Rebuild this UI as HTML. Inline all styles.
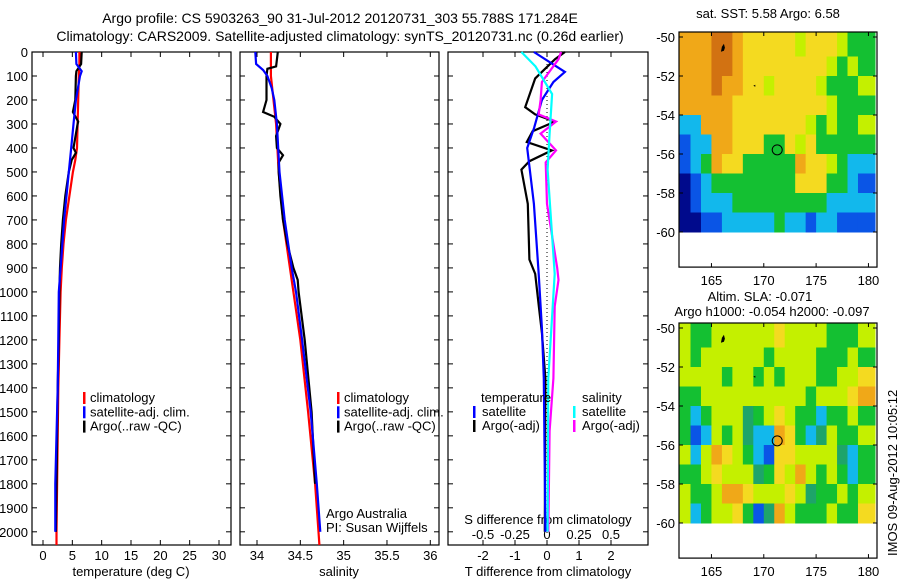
<!DOCTYPE html>
<html><head><meta charset="utf-8"><style>
html,body{margin:0;padding:0;background:#fff;width:900px;height:580px;overflow:hidden}
svg{display:block;font-family:"Liberation Sans",sans-serif;}
text{font-size:13px;fill:#000}
</style></head><body>
<svg id="chart" width="900" height="580" viewBox="0 0 900 580">
<text x="340" y="23" text-anchor="middle" style="font-size:14px">Argo profile: CS 5903263_90 31-Jul-2012 20120731_303 55.788S 171.284E</text>
<text x="340" y="41" text-anchor="middle" style="font-size:14px">Climatology: CARS2009. Satellite-adjusted climatology: synTS_20120731.nc (0.26d earlier)</text>
<g id="g"></g>
</svg>
<script>
// ---- depth profile data ----
const tClimDepth=[0,50,100,200,300,400,450,500,600,700,800,900,1000,1200,1400,1600,1800,2000,2055];
const tClim=[6.2,6.2,6.1,6.0,5.9,5.8,5.5,5.1,4.5,3.9,3.5,3.2,3.0,2.8,2.6,2.5,2.4,2.3,2.3];
const tSatDepth=[0,50,80,100,200,300,400,500,600,700,800,900,1000,1200,1400,1600,1800,2000];
const tSat=[5.6,5.7,6.6,6.3,5.6,5.2,4.8,4.4,4.0,3.6,3.3,3.0,2.7,2.6,2.5,2.3,2.1,2.1];
const tArgoDepth=[0,50,80,100,200,250,290,300,400,420,450,500,600,700,800,900,1000,1200,1400,1600,1800,2000];
const tArgo=[6.6,6.5,5.7,5.6,5.5,5.1,6.0,5.9,5.2,5.6,4.9,4.4,3.8,3.4,3.1,2.9,2.8,2.7,2.5,2.4,2.3,2.2];
const sClimDepth=[0,100,200,300,500,700,1000,1200,1500,1800,2000,2055];
const sClim=[34.16,34.16,34.19,34.22,34.25,34.30,34.42,34.5,34.59,34.67,34.71,34.72];
const sSatDepth=[0,50,75,100,150,200,300,500,700,900,1000,1200,1500,1800,2000];
const sSat=[33.98,33.99,34.07,34.12,34.17,34.2,34.23,34.26,34.32,34.40,34.45,34.52,34.62,34.69,34.73];
const sArgoDepth=[0,60,70,100,200,250,270,300,350,400,430,460,500,600,700,800,900,950,1000,1200,1500,1800];
const sArgo=[34.24,34.22,34.12,34.11,34.11,34.07,34.2,34.27,34.22,34.23,34.3,34.25,34.25,34.27,34.3,34.35,34.42,34.47,34.48,34.55,34.63,34.67];
const dTSatDepth=[0,83,125,200,315,400,633,925,1150,1360,2000];
const dTSat=[-0.41,0.56,0.2,-0.16,-0.4,-0.62,-0.41,-0.26,-0.16,-0.1,-0.05];
const dTArgoDepth=[0,30,110,230,260,290,330,375,410,455,490,633,865,925,1055,1170,1360,2000];
const dTArgo=[0.56,0.25,-0.37,-0.68,-0.37,0.25,-0.45,-0.63,0.15,-0.55,-0.8,-0.6,-0.55,-0.37,-0.26,-0.16,-0.05,-0.07];
const dSSatDepth=[0,60,175,340,490,925,1360,2000];
const dSSat=[-0.2,-0.09,0.04,0.02,0.005,0.06,0.01,0.005];
const dSArgoDepth=[0,30,125,200,260,290,340,410,460,633,900,950,1060,1360,1580,2000];
const dSArgo=[0.11,0.09,-0.04,-0.05,-0.065,0.07,-0.05,0.07,-0.01,0.0,0.08,0.09,0.06,0.05,0.02,0.01];
const depthTicks=[0,100,200,300,400,500,600,700,800,900,1000,1100,1200,1300,1400,1500,1600,1700,1800,1900,2000];
const tTicks=[0,5,10,15,20,25,30];
const sTicks=[34,34.5,35,35.5,36];
const sTickLabels=["34","34.5","35","35.5","36"];
const dTTicks=[-2,-1,0,1,2];
const dSTicks=[-0.5,-0.25,0,0.25,0.5];
const dSTickLabels=["-0.5","-0.25","0","0.25","0.5"];
// ---- map data (rows lat -50..-59, cols lon 162..179) ----
const sstGrid=[
"OOORROYYYYYLYYYLGG","OOORROYYYYYYYYLGLG","OOOROOYYLYYYYLGGGL","OOOOOYYYYYYYYYLGGG",
"CCOOOYYYYYYYLGLGGL","BCCOOYYYGGYLYGGGGG","BCGOYYGGGGGOYYLGCC","DBCGGGGGGGGYYYGGCB",
"DBCCCGGGGGGGGGCCCC","DDBBCCCCCGCCBCCBBB"];
const slaGrid=[
"LGGLLLLLLYLLLLGGGL","LGLLLLLLGLLLLGGGLG","LLLLGLLGLGLLLGGLLY","GGLLLLLLLLLLGLLLYO",
"GCGLLLTGLYLGGCGGLG","GBCLGLTCCOYGCTLGGL","LCLOYLGCBYYLLLLTCG","GGLYLLLTGYLOLGLGCG",
"LGGLOOYLLLYLTGGLGL","LCGLLYGBTOLGGGLGGY"];
const mapLonTicks=[165,170,175,180];
const mapLatTicks=[-50,-52,-54,-56,-58,-60];
const argoLon=171.284, argoLat=-55.788;

const NS="http://www.w3.org/2000/svg";
const G=document.getElementById('g');
function el(tag,attrs,parent){const e=document.createElementNS(NS,tag);for(const k in attrs)e.setAttribute(k,attrs[k]);(parent||G).appendChild(e);return e;}
function txt(x,y,s,anchor,size){const t=el('text',{x:x,y:y,'text-anchor':anchor||'start'});if(size)t.style.fontSize=size+'px';t.textContent=s;return t;}
const Y0=52, Y1=545, D1=2055;
function yD(d){return Y0+d/D1*(Y1-Y0);}
function panel(x0,x1,name){
  const r=el('rect',{x:x0,y:Y0,width:x1-x0,height:Y1-Y0,fill:'none',stroke:'#000','stroke-width':1.2});
  
  
  depthTicks.forEach(d=>{el('line',{x1:x0,x2:x0+5,y1:yD(d),y2:yD(d),stroke:'#000'});el('line',{x1:x1,x2:x1-5,y1:yD(d),y2:yD(d),stroke:'#000'});});
}
function line(xs,ds,fx,color,name,w){
  const p=el('polyline',{points:xs.map((v,i)=>fx(v).toFixed(1)+','+yD(ds[i]).toFixed(1)).join(' '),fill:'none',stroke:color,'stroke-width':w||2.2});
  
  
}
const P1=[32,231]; const xT=v=>43+(v-0)*(219-43)/30;
panel(P1[0],P1[1],'temperature-panel');
depthTicks.forEach(d=>{const t=txt(28,yD(d)+5,String(d),'end');});
tTicks.forEach(v=>{el('line',{x1:xT(v),x2:xT(v),y1:Y1,y2:Y1-5,stroke:'#000'});el('line',{x1:xT(v),x2:xT(v),y1:Y0,y2:Y0+5,stroke:'#000'});const t=txt(xT(v),560,String(v),'middle');});
line(tClim,tClimDepth,xT,'#f00','temp-climatology-line');
line(tArgo,tArgoDepth,xT,'#000','temp-argo-line');
line(tSat,tSatDepth,xT,'#00f','temp-satellite-line');
{const t=txt(131,576,'temperature (deg C)','middle');}
const P2=[240,439]; const xS=v=>257+(v-34)*(430.3-257)/2;
panel(P2[0],P2[1],'salinity-panel');
sTicks.forEach((v,i)=>{el('line',{x1:xS(v),x2:xS(v),y1:Y1,y2:Y1-5,stroke:'#000'});el('line',{x1:xS(v),x2:xS(v),y1:Y0,y2:Y0+5,stroke:'#000'});const t=txt(xS(v),560,sTickLabels[i],'middle');});
line(sClim,sClimDepth,xS,'#f00','salinity-climatology-line');
line(sArgo,sArgoDepth,xS,'#000','salinity-argo-line');
line(sSat,sSatDepth,xS,'#00f','salinity-satellite-line');
{const t=txt(339,576,'salinity','middle');}
{const t=txt(326,518,'Argo Australia');}
{const t=txt(326,532,'PI: Susan Wijffels');}
function legend(x,y,items,name){
  const g=el('g',{});
  items.forEach((it,i)=>{el('rect',{x:x,y:y+i*14.3-10,width:2.5,height:12,fill:it[0]},g);const t=el('text',{x:x+7,y:y+i*14.3},g);t.textContent=it[1];});
}
const legItems=[['#f00','climatology'],['#00f','satellite-adj. clim.'],['#000','Argo(..raw -QC)']];
legend(83,402,legItems,'temperature-legend');
legend(337,402,legItems,'salinity-legend');
const P3=[448,648]; const xDT=v=>547+v*32; const xDS=v=>547+v*128;
panel(P3[0],P3[1],'difference-panel');
el('line',{x1:547,x2:547,y1:Y0,y2:Y1-10,stroke:'#000','stroke-dasharray':'1,3'});
dTTicks.forEach(v=>{el('line',{x1:xDT(v),x2:xDT(v),y1:Y1,y2:Y1-5,stroke:'#000'});el('line',{x1:xDT(v),x2:xDT(v),y1:Y0,y2:Y0+5,stroke:'#000'});const t=txt(xDT(v),560,String(v),'middle');});
dSTicks.forEach((v,i)=>{const t=txt(xDS(v),539,dSTickLabels[i],'middle');});
{const t=txt(548,524,'S difference from climatology','middle');}
{const t=txt(548,576,'T difference from climatology','middle');}
line(dTArgo,dTArgoDepth,xDT,'#000','t-diff-argo-line');
line(dTSat,dTSatDepth,xDT,'#00f','t-diff-satellite-line');
line(dSArgo,dSArgoDepth,xDS,'#f0f','s-diff-argo-line');
line(dSSat,dSSatDepth,xDS,'#0ff','s-diff-satellite-line');
{const g=el('g',{});
 [['temperature',481,402],['salinity',582,402]].forEach(a=>{const t=el('text',{x:a[1],y:a[2]},g);t.textContent=a[0];});
 [[473,'#00f','satellite',416],[473,'#000','Argo(-adj)',430],[573,'#0ff','satellite',416],[573,'#f0f','Argo(-adj)',430]].forEach(a=>{el('rect',{x:a[0],y:a[3]-10,width:2.5,height:12,fill:a[1]},g);const t=el('text',{x:a[0]+9,y:a[3]},g);t.textContent=a[2];});
}
const colorMap={D:'#000a8c',B:'#0a55e6',C:'#12b8ec',T:'#1ea46a',G:'#14c032',L:'#c4f000',Y:'#f4da20',O:'#f0a818',R:'#d27212'};
function drawMap(top,grid,name,latTop){
  const x0=679,x1=877; const lonX=v=>679+(v-161.9)*(870-713)/15;
  const latY=v=>latTop+(-50-v)*19.5;
  const g=el('g',{});
  const ncol=grid[0].length;
  grid.forEach((row,r)=>{for(let c=0;c<row.length;c++){
    const xa=c==0?x0:lonX(162+c), xb=c==ncol-1?875:lonX(163+c);
    const ya=r==0?top:latY(-50-r), yb=latY(-51-r);
    const cell=el('rect',{x:xa,y:ya,width:xb-xa+0.5,height:yb-ya+0.5,fill:colorMap[row[c]]},g);
    
    }});
  const bottom=latY(-61.8);
  el('rect',{x:x0,y:top,width:x1-x0,height:bottom-top,fill:'none',stroke:'#000','stroke-width':1.2},g);
  mapLonTicks.forEach(v=>{el('line',{x1:lonX(v),x2:lonX(v),y1:top,y2:top+4,stroke:'#000'},g);el('line',{x1:lonX(v),x2:lonX(v),y1:bottom,y2:bottom-4,stroke:'#000'},g);const t=el('text',{x:lonX(v),y:bottom+18,'text-anchor':'middle'},g);t.textContent=String(v);});
  mapLatTicks.forEach(v=>{el('line',{x1:x0,x2:x0+4,y1:latY(v),y2:latY(v),stroke:'#000'},g);el('line',{x1:x1,x2:x1-4,y1:latY(v),y2:latY(v),stroke:'#000'},g);const t=el('text',{x:675,y:latY(v)+5,'text-anchor':'end'},g);t.textContent=String(v);});
  el('path',{d:`M${lonX(166)},${latY(-50.5)} l2,-3 l1,4 l-1,3 l-3,1 z`,fill:'#000'},g);
  el('path',{d:`M${lonX(169)},${latY(-52.5)} l2,-1 l0,2 z`,fill:'#000'},g);
  const c=el('circle',{cx:lonX(argoLon),cy:latY(argoLat),r:5,fill:'none',stroke:'#000','stroke-width':1},g);
  
  
}
drawMap(32,sstGrid,'sst-map',37);
drawMap(323,slaGrid,'sla-map',328);
{const t=txt(768,18,'sat. SST: 5.58 Argo: 6.58','middle');}
{const t=txt(760,301,'Altim. SLA: -0.071','middle');}
{const t=txt(772,316,'Argo h1000: -0.054 h2000: -0.097','middle');}
{const t=txt(0,0,'IMOS 09-Aug-2012 10:05:12','start');t.setAttribute('transform','translate(897,556) rotate(-90)');}
</script>
</body></html>
